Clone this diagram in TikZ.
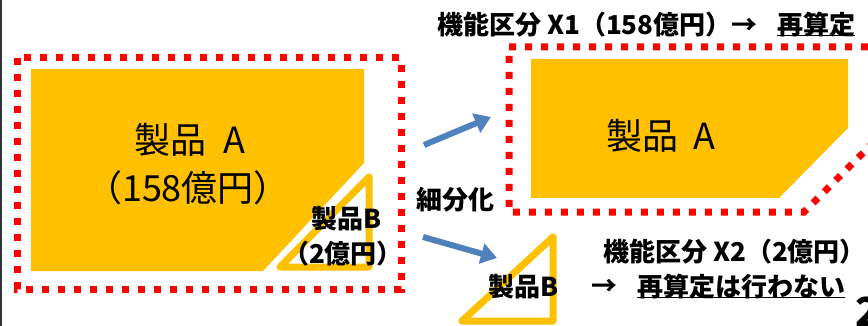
\documentclass[tikz,border=0pt]{standalone}
\usepackage{fontspec}
\setmainfont{Noto Sans CJK JP}
\usetikzlibrary{arrows.meta}
\definecolor{org}{HTML}{FFC000}
\definecolor{rd}{HTML}{FF0000}
\definecolor{bl}{HTML}{4F81BD}
\tikzset{
  redbox/.style={draw=rd, line width=7pt, dash pattern=on 7pt off 9pt},
  orgfill/.style={fill=org, draw=none},
  orgline/.style={draw=org, line width=7pt, line join=round},
  bigtxt/.style={font=\fontsize{36}{40}\selectfont, inner sep=0pt},
  lbl/.style={font=\bfseries\fontsize{26}{30}\selectfont, inner sep=0pt},
  blarrow/.style={draw=bl, line width=6pt, -{Triangle[length=16pt,width=20pt]}},
}
\begin{document}
\begin{tikzpicture}[x=1pt,y=-1pt]
\useasboundingbox (0,0) rectangle (868,326);
\clip (0,0) rectangle (868,326);
\fill[white] (0,0) rectangle (868,326);
\draw[line width=1.5pt, black!80] (0.75,0) -- (0.75,326);
% left group
\draw[redbox] (17,58) rectangle (401,289);
\fill[orgfill] (31,69) -- (364,69) -- (364,163) -- (263,271) -- (31,271) -- cycle;
\draw[orgline] (280,267) -- (369,177) -- (369,267) -- cycle;
\node[bigtxt] (a1) at (190,140) {製品\hspace{0.45em}A};
\node[bigtxt] (a2) at (188,188) {（158億円）};
\node[lbl] (b1) at (347,219) {製品B};
\node[lbl] (b2) at (343,254) {（2億円）};
% middle
\node[lbl] (split) at (455,200) {細分化};
\coordinate (t1) at (424,145);
\coordinate (h1) at (491,117);
\coordinate (t2) at (423,237);
\coordinate (h2) at (497,258);
\draw[blarrow] (t1) -- (h1);
\draw[blarrow] (t2) -- (h2);
% right top
\node[lbl, anchor=west] (x1) at (437,25) {機能区分 X1（158億円）→};
\node[lbl, anchor=west] (re1) at (777,25) {再算定};
\draw[line width=1.2pt] ([yshift=2pt]re1.south west) -- ([yshift=2pt]re1.south east);
\draw[redbox] (509,47) -- (900,47) -- (900,116) -- (804,212) -- (509,212) -- cycle;
\fill[orgfill] (531,59) -- (848,59) -- (848,128) -- (779,198) -- (531,198) -- cycle;
\node[bigtxt] (a3) at (661,136) {製品\hspace{0.4em}A};
% right bottom
\draw[orgline] (553,237) -- (553,321) -- (462,321) -- cycle;
\node[lbl, anchor=west] (x2) at (603,252) {機能区分 X2（2億円）};
\node[lbl] (b3) at (524,287) {製品B};
\node[lbl] (arr) at (604,287) {→};
\node[lbl, anchor=west] (re2) at (637,287) {再算定は行わない};
\draw[line width=1.2pt] ([yshift=2pt]re2.south west) -- ([yshift=2pt]re2.south east);
\node[font=\bfseries\fontsize{40}{44}\selectfont, inner sep=0pt, anchor=west] (pg) at (855,312) {2};
\end{tikzpicture}
\end{document}
